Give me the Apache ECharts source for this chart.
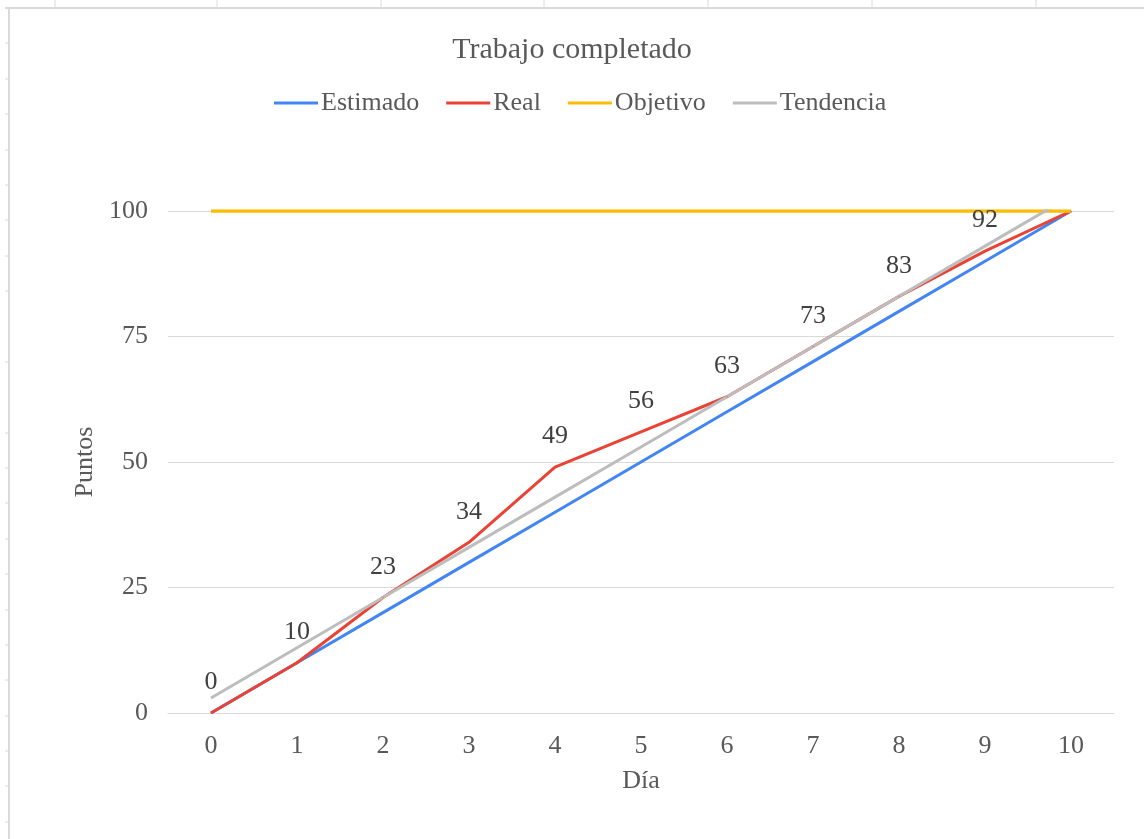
<!DOCTYPE html>
<html>
<head>
<meta charset="utf-8">
<script src="https://cdn.jsdelivr.net/npm/echarts@6/dist/echarts.min.js"></script>
<style>
  html, body { margin: 0; padding: 0; background: #ffffff; }
  #chart { width: 1144px; height: 839px; }
</style>
</head>
<body>
<div id="chart"></div>
<script>
// Burn-up: points completed per day
const dias = ['0', '1', '2', '3', '4', '5', '6', '7', '8', '9', '10'];
const estimado = [0, 10, 20, 30, 40, 50, 60, 70, 80, 90, 100];
const real = [0, 10, 23, 34, 49, 56, 63, 73, 83, 92, 100];
const objetivo = [100, 100, 100, 100, 100, 100, 100, 100, 100, 100, 100];
const tendencia = [3, 13, 23, 33, 43, 53, 63, 73, 83, 93, 103];
const yTicks = [0, 25, 50, 75, 100];

const serif = '"Liberation Serif", "DejaVu Serif", serif';
const textGrey = '#595959';
const frameGrey = '#dadada';

// Sheet frame around the chart object (top ruler and left row marks)
const frame = [
  { type: 'line', shape: { x1: 5, y1: 8, x2: 1144, y2: 8 }, style: { stroke: frameGrey, lineWidth: 2 } },
  { type: 'line', shape: { x1: 9, y1: 8, x2: 9, y2: 839 }, style: { stroke: frameGrey, lineWidth: 2 } }
];
[55, 217, 381, 544, 708, 872, 1036].forEach(function (x) {
  frame.push({ type: 'line', shape: { x1: x, y1: 0, x2: x, y2: 7 }, style: { stroke: frameGrey, lineWidth: 1 } });
});
[43, 79, 114, 150, 185, 220, 256, 291, 362, 433, 468, 503, 539, 574, 610, 645, 680, 716, 751, 786, 822].forEach(function (y) {
  frame.push({ type: 'line', shape: { x1: 5, y1: y, x2: 9, y2: y }, style: { stroke: frameGrey, lineWidth: 1 } });
});

// The last day reaches the target line, so its value label is left off
const realData = real.map(function (v, i) {
  return i === real.length - 1 ? { value: v, label: { show: false } } : v;
});

const chart = echarts.init(document.getElementById('chart'), null, { renderer: 'canvas' });

chart.setOption({
  backgroundColor: '#ffffff',
  animation: false,
  graphic: frame,
  title: {
    text: 'Trabajo completado',
    left: 'center',
    top: 30,
    textStyle: { fontFamily: serif, fontSize: 30, fontWeight: 'normal', color: textGrey }
  },
  legend: {
    top: 85,
    left: 269,
    itemWidth: 44,
    itemHeight: 3,
    itemGap: 27,
    icon: 'rect',
    textStyle: { fontFamily: serif, fontSize: 26, color: textGrey, padding: [0, 0, 0, -2] },
    data: ['Estimado', 'Real', 'Objetivo', 'Tendencia']
  },
  grid: { left: 168, right: 30, top: 211, bottom: 126 },
  xAxis: {
    type: 'category',
    data: dias,
    boundaryGap: true,
    name: 'Día',
    nameLocation: 'middle',
    nameGap: 55,
    nameTextStyle: { fontFamily: serif, fontSize: 26, color: textGrey },
    axisLine: { lineStyle: { color: '#d9d9d9', width: 1 } },
    axisTick: { show: false },
    axisLabel: { fontFamily: serif, fontSize: 26, color: textGrey, margin: 20 }
  },
  yAxis: {
    type: 'value',
    min: yTicks[0],
    max: yTicks[yTicks.length - 1],
    interval: yTicks[1] - yTicks[0],
    name: 'Puntos',
    nameLocation: 'middle',
    nameGap: 68,
    nameRotate: 90,
    nameTextStyle: { fontFamily: serif, fontSize: 26, color: textGrey },
    axisLine: { show: false },
    axisTick: { show: false },
    axisLabel: { fontFamily: serif, fontSize: 26, color: textGrey, margin: 20 },
    splitLine: { lineStyle: { color: '#d9d9d9', width: 1 } }
  },
  series: [
    {
      name: 'Estimado', type: 'line', data: estimado, symbol: 'none',
      itemStyle: { color: '#4285f4' }, lineStyle: { color: '#4285f4', width: 3 }
    },
    {
      name: 'Real', type: 'line', data: realData,
      symbol: 'circle', symbolSize: 1, showSymbol: true,
      itemStyle: { color: '#ea4335' }, lineStyle: { color: '#ea4335', width: 3 },
      label: {
        show: true, position: 'top', distance: 17,
        fontFamily: serif, fontSize: 26, color: '#404040'
      }
    },
    {
      name: 'Objetivo', type: 'line', data: objetivo, symbol: 'none',
      itemStyle: { color: '#fbbc04' }, lineStyle: { color: '#fbbc04', width: 3.5 }
    },
    {
      name: 'Tendencia', type: 'line', data: tendencia, symbol: 'none', clip: true,
      itemStyle: { color: '#bdbdbd' }, lineStyle: { color: '#bdbdbd', width: 3 }
    }
  ]
});
</script>
</body>
</html>
